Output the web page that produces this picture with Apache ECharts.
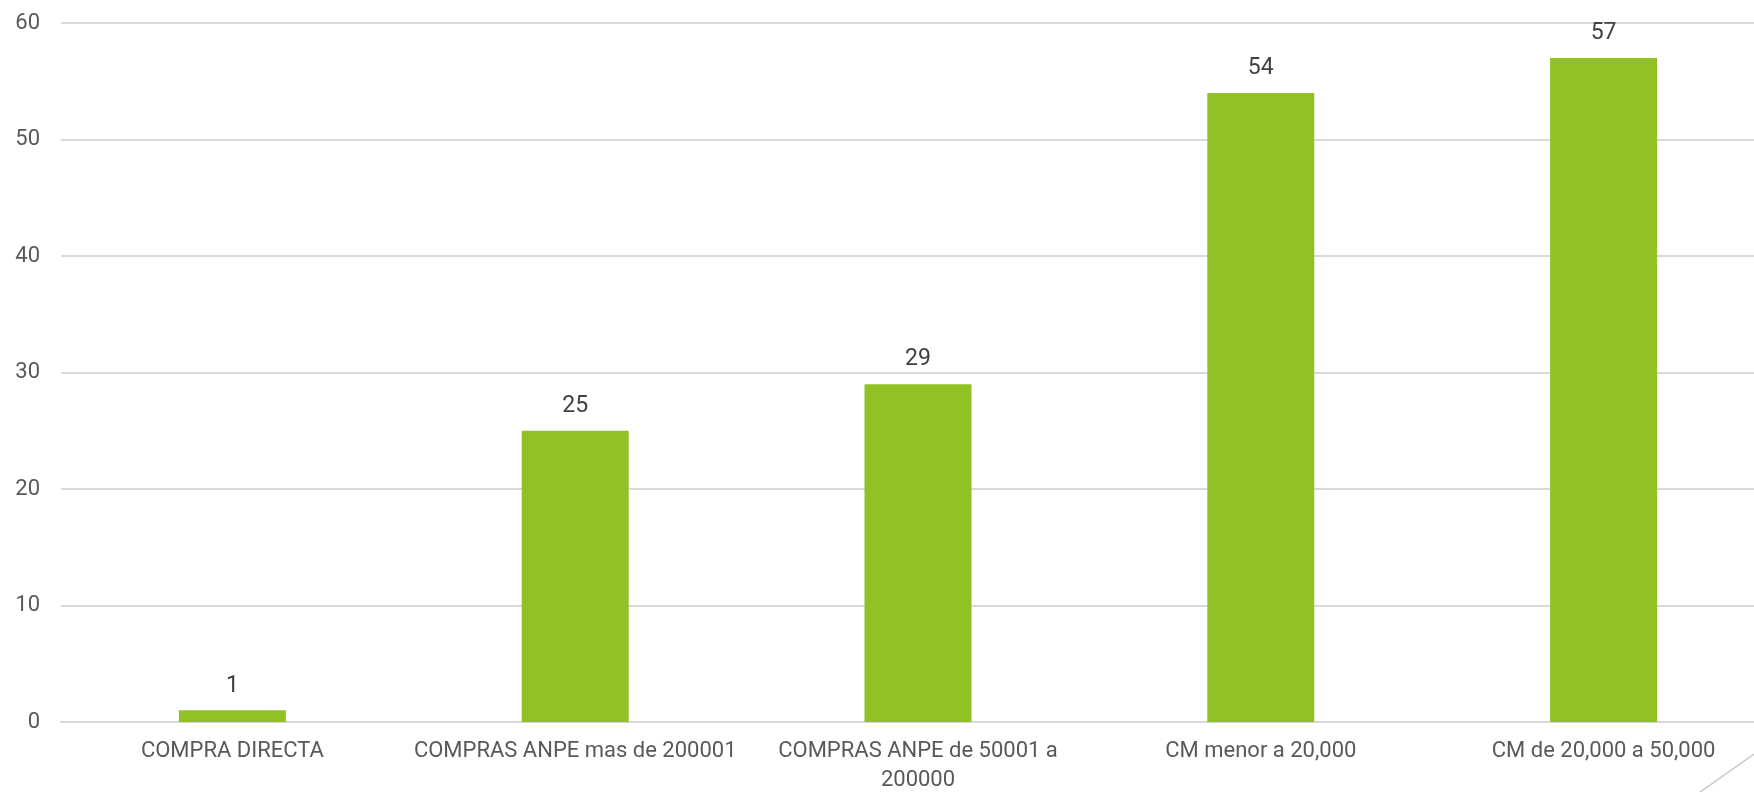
<!DOCTYPE html>
<html lang="es">
<head>
    <meta charset="UTF-8">
    <title>Compras</title>
    <style>
        html, body { margin: 0; padding: 0; background: #fff; }
        #container { width: 1754px; height: 792px; }
    </style>
    <script src="https://cdn.jsdelivr.net/npm/echarts@6/dist/echarts.min.js"></script>
</head>
<body>
<div id="container"></div>
<script type="text/javascript">
    // categorias y valores
    var categories = ['COMPRA DIRECTA', 'COMPRAS ANPE mas de 200001', 'COMPRAS ANPE de 50001 a\n200000', 'CM menor a 20,000', 'CM de 20,000 a 50,000'];
    var values = [1, 25, 29, 54, 57];
    var yTicks = { min: 0, max: 60, interval: 10 };

    var myChart = echarts.init(document.getElementById('container'));
    var font = 'Roboto, "Liberation Sans", sans-serif';

    var option = {
        backgroundColor: '#ffffff',
        animation: false,
        grid: { left: 61, top: 23, width: 1714, height: 699, outerBoundsMode: 'none', containLabel: false },
        xAxis: {
            type: 'category',
            data: categories,
            axisLine: { lineStyle: { color: '#d9d9d9', width: 2 } },
            axisTick: { show: false },
            axisLabel: {
                color: '#595959',
                fontFamily: font,
                fontSize: 22,
                lineHeight: 29,
                margin: 15,
                interval: 0
            }
        },
        yAxis: {
            type: 'value',
            min: yTicks.min,
            max: yTicks.max,
            interval: yTicks.interval,
            axisLine: { show: false },
            axisTick: { show: false },
            splitLine: { lineStyle: { color: '#d9d9d9', width: 2 } },
            axisLabel: {
                color: '#595959',
                fontFamily: font,
                fontSize: 22,
                margin: 21
            }
        },
        series: [{
            type: 'bar',
            data: values,
            barWidth: 107,
            itemStyle: { color: '#92c126' },
            label: {
                show: true,
                position: 'top',
                distance: 13,
                color: '#404040',
                fontFamily: font,
                fontSize: 23
            }
        }],
        graphic: [{
            type: 'line',
            shape: { x1: 1700, y1: 792, x2: 1754, y2: 754 },
            style: { stroke: '#c8c8c8', lineWidth: 1.5 }
        }]
    };

    myChart.setOption(option);
</script>
</body>
</html>
